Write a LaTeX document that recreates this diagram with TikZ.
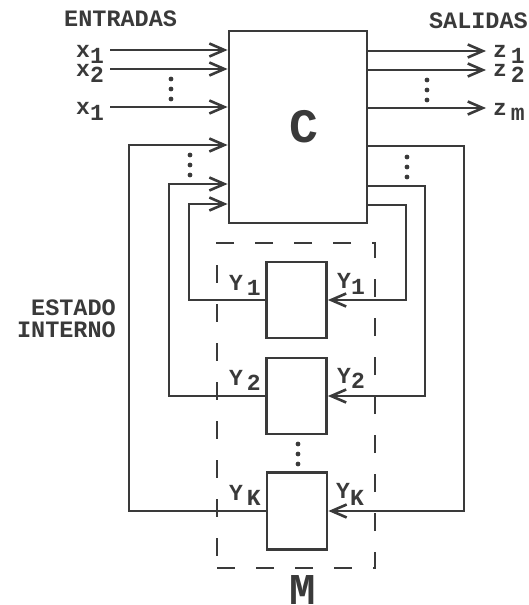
\documentclass[tikz,border=0pt]{standalone}
\usepackage{fontspec}
\setmainfont{Liberation Mono}
\usetikzlibrary{arrows.meta}
\definecolor{ink}{RGB}{58,58,58}
\newcommand\lsub[2][6pt]{\raisebox{-#1}{#2}}
\begin{document}
\begin{tikzpicture}[x=1pt,y=-1pt,
  wire/.style={draw=ink,line width=2.8pt,line join=miter},
  arr/.style={wire,-{Straight Barb[length=15pt,width=13pt,line width=2.6pt]}},
  blk/.style={draw=ink,line width=2.8pt,rectangle,inner sep=0pt},
  lab/.style={text=ink,inner sep=0pt,font=\fontsize{23}{25}\selectfont\bfseries},
  head/.style={text=ink,inner sep=0pt,font=\fontsize{23.5}{26}\selectfont\bfseries},
  dotm/.style={fill=ink,draw=none}
]
\useasboundingbox (0,0) rectangle (528,605);

% main combinational block
\node[blk,minimum width=138pt,minimum height=192pt] (C) at (298,127) {};
\node[text=ink,inner sep=0pt,font=\fontsize{48}{50}\selectfont\bfseries,anchor=base] (Clab) at (304,142) {C};

% memory elements
\node[blk,minimum width=60pt,minimum height=76pt] (B1) at (296.5,300) {};
\node[blk,minimum width=60pt,minimum height=76pt] (B2) at (296.5,396) {};
\node[blk,minimum width=60pt,minimum height=77pt] (BK) at (297,511) {};

% dashed memory box
\node[draw=ink,line width=2.8pt,dash pattern=on 18pt off 21pt,rectangle,inner sep=0pt,
      minimum width=158pt,minimum height=325pt] (M) at (296,405.5) {};
\node[text=ink,inner sep=0pt,font=\fontsize{44}{46}\selectfont\bfseries,anchor=base] (Mlab) at (303,604) {M};

% headings
\node[head,anchor=base west] (ent) at (64,27) {ENTRADAS};
\node[head,anchor=base east] (sal) at (528,28) {SALIDAS};
\node[head,anchor=base east] (est1) at (116,315) {ESTADO};
\node[head,anchor=base east] (est2) at (116,337) {INTERNO};

% inputs
\coordinate (xa) at (110,50);
\coordinate (xb) at (110,69);
\coordinate (xc) at (110,107);
\draw[arr] (xa) -- (xa -| C.west);
\draw[arr] (xb) -- (xb -| C.west);
\draw[arr] (xc) -- (xc -| C.west);
\node[lab,anchor=base west] (lx1) at (76,57) {x\lsub{1}};
\node[lab,anchor=base west] (lx2) at (76,76) {x\lsub{2}};
\node[lab,anchor=base west] (lx3) at (76,114) {x\lsub{1}};

% outputs
\coordinate (za) at (486,51);
\coordinate (zb) at (486,70);
\coordinate (zc) at (486,108);
\draw[arr] (za -| C.east) -- (za);
\draw[arr] (zb -| C.east) -- (zb);
\draw[arr] (zc -| C.east) -- (zc);
\node[lab,anchor=base west] (lz1) at (493,57) {z\,\lsub{1}};
\node[lab,anchor=base west] (lz2) at (493,76) {z\,\lsub{2}};
\node[lab,anchor=base west] (lz3) at (493,115) {z\,\lsub[5pt]{m}};

% feedback: memory outputs to C inputs (left side)
\coordinate (L1) at (189,204);
\coordinate (L2) at (169,184);
\coordinate (LK) at (129,145);
\draw[arr] (B1.west) -| (L1) -- (L1 -| C.west);
\draw[arr] (B2.west) -| (L2) -- (L2 -| C.west);
\draw[arr] (BK.west) -| (LK) -- (LK -| C.west);

% feedback: C outputs to memory inputs (right side)
\coordinate (R1) at (406,205);
\coordinate (R2) at (425,186);
\coordinate (RK) at (464,146);
\draw[arr] (R1 -| C.east) -| (R1 |- B1.east) -- (B1.east);
\draw[arr] (R2 -| C.east) -| (R2 |- B2.east) -- (B2.east);
\draw[arr] (RK -| C.east) -| (RK |- BK.east) -- (BK.east);

% state labels
\node[lab,anchor=base west] (ly1) at (229,290) {Y\,\lsub[5pt]{1}};
\node[lab,anchor=base west] (ry1) at (337,288) {Y\lsub[6pt]{1}};
\node[lab,anchor=base west] (ly2) at (229,385) {Y\,\lsub[5pt]{2}};
\node[lab,anchor=base west] (ry2) at (337,383) {Y\lsub[5pt]{2}};
\node[lab,anchor=base west] (lyk) at (229,500) {Y\,\lsub[5pt]{K}};
\node[lab,anchor=base west] (ryk) at (336,498) {Y\lsub[7pt]{K}};

% ellipsis dots
\foreach \px/\py in {171/79,190/155,427/80,407/157,298/444}{
  \fill[dotm] (\px,\py) circle (2.4pt) (\px,\py+10) circle (2.4pt) (\px,\py+20) circle (2.4pt);
}
\end{tikzpicture}
\end{document}
